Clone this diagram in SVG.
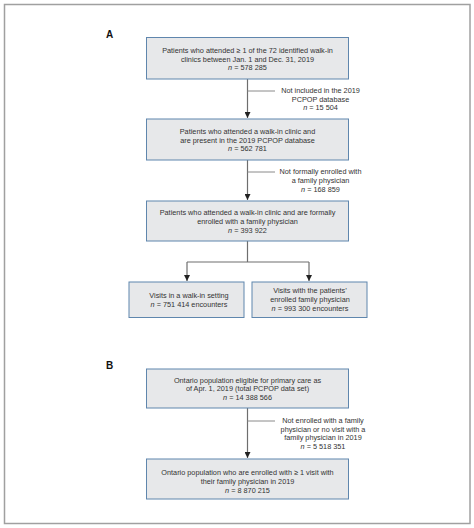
<svg xmlns="http://www.w3.org/2000/svg" width="474" height="528" viewBox="0 0 474 528">
<defs>
<style>
text{font-family:"Liberation Sans",Arial,sans-serif;font-size:7.3px;fill:#333;text-anchor:middle}
.lbl{font-size:10px;font-weight:bold;fill:#111;text-anchor:start}
.box{fill:#e7e8ea;stroke:#5f86ad;stroke-width:1}
.ln{stroke:#6e6e6e;stroke-width:1.2;fill:none}
.side{stroke:#8a8a8a;stroke-width:1;fill:none}
</style>
<marker id="ah" viewBox="0 0 6 6" refX="6" refY="3" markerWidth="6" markerHeight="6" markerUnits="userSpaceOnUse" orient="auto">
<path d="M0,0 L6,3 L0,6 z" fill="#222"/>
</marker>
</defs>
<rect width="474" height="528" fill="#fff"/>
<rect x="4.5" y="4.5" width="465.5" height="519" fill="none" stroke="#a0a0a0" stroke-width="1.5"/>
<text class="lbl" x="106" y="38">A</text>
<text class="lbl" x="106" y="369">B</text>

<g id="connectors">
<path class="ln" d="M247.5,79 V118" marker-end="url(#ah)"/>
<path class="side" d="M247.5,91 H275"/>
<path class="ln" d="M247.5,160 V200" marker-end="url(#ah)"/>
<path class="side" d="M247.5,172 H275"/>
<path class="ln" d="M247.5,241 V262 M187,262 H309"/>
<path class="ln" d="M187,262 V281" marker-end="url(#ah)"/>
<path class="ln" d="M309,262 V281" marker-end="url(#ah)"/>
<path class="ln" d="M247.5,408 V458" marker-end="url(#ah)"/>
<path class="side" d="M247.5,421 H275"/>
</g>

<g id="n1">
<rect class="box" x="146.5" y="37.5" width="202" height="41.5"/>
<text x="247.5" y="53">Patients who attended ≥ 1 of the 72 identified walk-in</text>
<text x="247.5" y="61.5">clinics between Jan. 1 and Dec. 31, 2019</text>
<text x="247.5" y="70"><tspan font-style="italic">n</tspan> = 578 285</text>
</g>
<g id="x1">
<text x="320.5" y="93">Not included in the 2019</text>
<text x="320.5" y="101.5">PCPOP database</text>
<text x="320.5" y="110"><tspan font-style="italic">n</tspan> = 15 504</text>
</g>
<g id="n2">
<rect class="box" x="146.5" y="119" width="202" height="41"/>
<text x="247.5" y="134">Patients who attended a walk-in clinic and</text>
<text x="247.5" y="142.5">are present in the 2019 PCPOP database</text>
<text x="247.5" y="151"><tspan font-style="italic">n</tspan> = 562 781</text>
</g>
<g id="x2">
<text x="320.5" y="174">Not formally enrolled with</text>
<text x="320.5" y="182.5">a family physician</text>
<text x="320.5" y="191.5"><tspan font-style="italic">n</tspan> = 168 859</text>
</g>
<g id="n3">
<rect class="box" x="146.5" y="201" width="202" height="40"/>
<text x="247.5" y="214.5">Patients who attended a walk-in clinic and are formally</text>
<text x="247.5" y="223.5">enrolled with a family physician</text>
<text x="247.5" y="232.5"><tspan font-style="italic">n</tspan> = 393 922</text>
</g>
<g id="n4">
<rect class="box" x="129" y="282" width="115" height="35.5"/>
<text x="189" y="297.5">Visits in a walk-in setting</text>
<text x="189" y="306.5"><tspan font-style="italic">n</tspan> = 751 414 encounters</text>
</g>
<g id="n5">
<rect class="box" x="252" y="282" width="115" height="35.5"/>
<text x="310" y="293">Visits with the patients’</text>
<text x="310" y="301.5">enrolled family physician</text>
<text x="310" y="310.5"><tspan font-style="italic">n</tspan> = 993 300 encounters</text>
</g>

<g id="b1">
<rect class="box" x="146.5" y="369" width="202" height="39"/>
<text x="247.5" y="382.5">Ontario population eligible for primary care as</text>
<text x="247.5" y="391">of Apr. 1, 2019 (total PCPOP data set)</text>
<text x="247.5" y="399.5"><tspan font-style="italic">n</tspan> = 14 388 566</text>
</g>
<g id="bx">
<text x="323" y="423">Not enrolled with a family</text>
<text x="323" y="431.5">physician or no visit with a</text>
<text x="323" y="440">family physician in 2019</text>
<text x="323" y="448.5"><tspan font-style="italic">n</tspan> = 5 518 351</text>
</g>
<g id="b2">
<rect class="box" x="146.5" y="459" width="202" height="40"/>
<text x="247.5" y="474.5">Ontario population who are enrolled with ≥ 1 visit with</text>
<text x="247.5" y="484">their family physician in 2019</text>
<text x="247.5" y="492.5"><tspan font-style="italic">n</tspan> = 8 870 215</text>
</g>
</svg>
